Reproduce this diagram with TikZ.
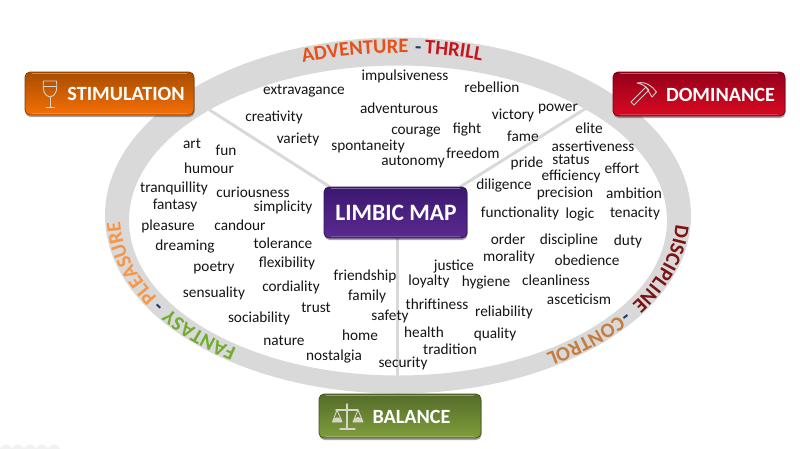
\documentclass[tikz,border=0pt]{standalone}
\usepackage{fontspec}
\setmainfont{Carlito}
\usetikzlibrary{decorations.text,shadows}
\definecolor{ringgray}{HTML}{D9D9D9}
\definecolor{advc}{HTML}{E8501A}
\definecolor{thrc}{HTML}{C8141A}
\definecolor{dashc}{HTML}{1F3864}
\definecolor{plec}{HTML}{F79646}
\definecolor{fanc}{HTML}{70AD2C}
\definecolor{disc}{HTML}{7B1214}
\definecolor{conc}{HTML}{C67C3C}
\definecolor{icon}{HTML}{D8D4CC}
\definecolor{stimT}{HTML}{A84D00}\definecolor{stimB}{HTML}{F56F06}
\definecolor{domT}{HTML}{95001A}\definecolor{domB}{HTML}{D90A22}
\definecolor{balT}{HTML}{556B2A}\definecolor{balB}{HTML}{7F9E3B}
\definecolor{limT}{HTML}{3B1870}\definecolor{limB}{HTML}{5A2A90}
\newcommand{\arcA}{278}\newcommand{\arcB}{163}\newcommand{\arcY}{216}
\newcommand{\arcword}[4]{%
  \path[decorate,decoration={text along path,text={|\fontsize{20.5}{20.5}\selectfont\bfseries\color{#3}|#4}}]
    ({398+\arcA*cos(#1)},{\arcY+\arcB*sin(#1)}) arc[start angle=#1,end angle=#2,x radius=\arcA,y radius=\arcB];}
\newcommand{\gloss}[1]{%
  \draw[white,opacity=0.35,line width=0.8pt] ([xshift=7pt,yshift=-1.6pt]#1.north west) -- ([xshift=-7pt,yshift=-1.6pt]#1.north east);
  \draw[white,opacity=0.2,line width=0.8pt] ([xshift=7pt,yshift=1.6pt]#1.south west) -- ([xshift=-7pt,yshift=1.6pt]#1.south east);}
\tikzset{
  wordlabel/.style={font=\fontsize{15.3}{16}\selectfont,text=black!92,inner sep=0pt,anchor=center},
  boxbase/.style={rounded corners=5pt,draw=#1,line width=0.8pt,inner sep=0pt,
    anchor=center,
    drop shadow={shadow xshift=0.5pt,shadow yshift=-2pt,opacity=0.35,fill=black}},
  boxtext/.style={font=\fontsize{20.2}{20}\selectfont\bfseries,text=white,inner sep=0pt,anchor=center},
  connector/.style={draw=ringgray,line width=3pt},
  iconline/.style={draw=icon,line width=0.9pt,line join=round,line cap=round},
}
\begin{document}
\begin{tikzpicture}[x=1pt,y=-1pt]
\useasboundingbox (0,0) rectangle (800,448);
% faint marks at the lower edge
\begin{scope}
\clip (0,440) rectangle (70,448);
\foreach \cx in {6,18,30,42,54} \fill[black!5] (\cx,451) circle (6.5pt);
\end{scope}
% ring
\fill[ringgray,even odd rule] (398,215.5) ellipse [x radius=293,y radius=178]
  (398,220.5) ellipse [x radius=269,y radius=155];
% free ends of the connectors
\coordinate (endS) at (205,107);
\coordinate (endD) at (588,107);
\coordinate (endB) at (397,376);
% boxes
\node[boxbase=stimT!80!black,top color=stimT,bottom color=stimB,minimum width=169pt,minimum height=43pt] (stim) at (109.5,93.5) {};
\node[boxbase=domT!80!black,top color=domT,bottom color=domB,minimum width=172pt,minimum height=44pt] (dom) at (699,94) {};
\node[boxbase=balT!80!black,top color=balT,bottom color=balB,minimum width=162pt,minimum height=44pt] (bal) at (400,416) {};
% connectors
\draw[connector] (endS) -- (330,187) coordinate (cS);
\draw[connector] (endD) -- (460,187) coordinate (cD);
\draw[connector] (endB) -- (397,238) coordinate (cB);
\node[boxbase=limT!80!black,top color=limT,bottom color=limB,minimum width=143pt,minimum height=51pt] (limbic) at (395.5,212.5) {};
\gloss{stim}\gloss{dom}\gloss{bal}\gloss{limbic}
% box labels
\node[boxtext] (tS) at (126,94) {STIMULATION};
\node[boxtext] (tD) at (720.5,95) {DOMINANCE};
\node[boxtext] (tB) at (411.5,417) {BALANCE};
\node[boxtext,font=\fontsize{23.5}{23}\selectfont\bfseries] (tL) at (396,213) {LIMBIC MAP};
% wine glass
\draw[iconline] (43.5,81) -- (56.5,81) .. controls (57.5,90) and (56,96) .. (50,97) .. controls (44,96) and (42.5,90) .. (43.5,81) -- cycle;
\draw[iconline] (43.5,86) -- (56.5,86);
\draw[iconline] (50,97) -- (50,107) (46,107.2) -- (54.5,107.2);
% hammer
\draw[iconline] (631,102) -- (646,87) -- (649,90) -- (634,105) -- cycle;
\draw[iconline] (637,83) .. controls (642,82) and (646,83) .. (649,85) -- (653,88) -- (656.5,92) -- (652,97) -- (649,92) -- (646,87) .. controls (644,85) and (641,84) .. (637,83) -- cycle;
% scales
\draw[iconline,line width=1.4pt] (347,404) -- (347,428) (340,429) -- (355,429) (336,410) -- (358,410);
\draw[iconline] (337,410) -- (332.5,422) -- (342,422) -- cycle (358,410) -- (353,422) -- (363,422) -- cycle;
\fill[icon] (332.5,422) arc[start angle=180,end angle=0,radius=4.75pt] -- cycle;
\fill[icon] (353,422) arc[start angle=180,end angle=0,radius=5pt] -- cycle;
% ring labels
\arcword{250}{300}{advc}{ADVENTURE}
\arcword{273.5}{280}{dashc}{-}
\arcword{275.5}{320}{thrc}{THRILL}
\arcword{125.5}{161}{fanc}{FANTASY}
\arcword{147}{155}{dashc}{-}
\arcword{150}{205}{plec}{PLEASURE}
\arcword{3}{45}{disc}{DISCIPLINE}
\arcword{35.5}{42}{dashc}{-}
\arcword{37.5}{85}{conc}{CONTROL}
% words
\foreach \t/\px/\py [count=\i] in {
extravagance/304/91, impulsiveness/405/76, rebellion/492/87, creativity/274/117,
adventurous/399/108, victory/513/115, power/558/109, variety/298/139,
courage/416/132, fight/467/129, fame/523/136, elite/589/128, art/192/144, fun/226/150,
spontaneity/368/146, freedom/473/153, assertiveness/593/146, humour/209/168,
autonomy/413/162, pride/527/163, status/571/160, effort/622/168, tranquillity/174/188,
curiousness/253/192, diligence/504/185, efficiency/571/176, fantasy/175/205,
simplicity/283/207, precision/565/193, ambition/634/193, pleasure/168/226,
candour/240/225, functionality/520/213, logic/580/214, tenacity/635/213,
dreaming/185/246, tolerance/283/243, order/508/239, discipline/569/240, duty/628/241,
poetry/214/268, flexibility/287/263, morality/509/257, obedience/587/260, justice/454/267,
friendship/365/276, sensuality/214/293, cordiality/291/287, loyalty/429/281,
hygiene/486/282, cleanliness/556/280, family/367/296, sociability/259/318, trust/316/308,
asceticism/579/299, thriftiness/437/304, safety/390/316, reliability/504/312,
nature/284/341, home/360/335, health/424/332, quality/495/334, tradition/450/349,
nostalgia/334/356, security/403/363}
  \node[wordlabel] (w\i) at (\px,\py) {\t};
\end{tikzpicture}
\end{document}
